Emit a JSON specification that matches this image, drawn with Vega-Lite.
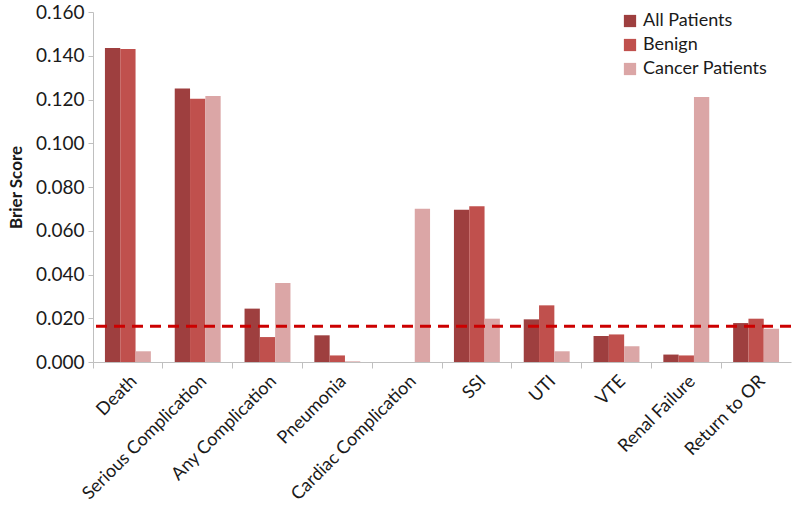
{
  "$schema": "https://vega.github.io/schema/vega-lite/v6.json",
  "width": 698,
  "height": 350,
  "autosize": {"type": "none"},
  "padding": {"left": 93, "top": 12, "right": 9, "bottom": 156},
  "background": "white",
  "config": {
    "font": "Lato",
    "view": {"stroke": null},
    "axis": {"grid": false, "domainColor": "#BFBFBF", "tickColor": "#BFBFBF", "labelColor": "#1a1a1a", "titleColor": "#1a1a1a"}
  },
  "datasets": {
    "scores": [
      {"outcome": "Death", "group": "All Patients", "brier": 0.1435},
      {"outcome": "Death", "group": "Benign", "brier": 0.1431},
      {"outcome": "Death", "group": "Cancer Patients", "brier": 0.0049},
      {"outcome": "Serious Complication", "group": "All Patients", "brier": 0.1250},
      {"outcome": "Serious Complication", "group": "Benign", "brier": 0.1204},
      {"outcome": "Serious Complication", "group": "Cancer Patients", "brier": 0.1216},
      {"outcome": "Any Complication", "group": "All Patients", "brier": 0.0244},
      {"outcome": "Any Complication", "group": "Benign", "brier": 0.0114},
      {"outcome": "Any Complication", "group": "Cancer Patients", "brier": 0.0361},
      {"outcome": "Pneumonia", "group": "All Patients", "brier": 0.0122},
      {"outcome": "Pneumonia", "group": "Benign", "brier": 0.0030},
      {"outcome": "Pneumonia", "group": "Cancer Patients", "brier": 0.0003},
      {"outcome": "Cardiac Complication", "group": "All Patients", "brier": 0},
      {"outcome": "Cardiac Complication", "group": "Benign", "brier": 0},
      {"outcome": "Cardiac Complication", "group": "Cancer Patients", "brier": 0.0701},
      {"outcome": "SSI", "group": "All Patients", "brier": 0.0696},
      {"outcome": "SSI", "group": "Benign", "brier": 0.0712},
      {"outcome": "SSI", "group": "Cancer Patients", "brier": 0.0198},
      {"outcome": "UTI", "group": "All Patients", "brier": 0.0195},
      {"outcome": "UTI", "group": "Benign", "brier": 0.0259},
      {"outcome": "UTI", "group": "Cancer Patients", "brier": 0.0049},
      {"outcome": "VTE", "group": "All Patients", "brier": 0.0119},
      {"outcome": "VTE", "group": "Benign", "brier": 0.0126},
      {"outcome": "VTE", "group": "Cancer Patients", "brier": 0.0072},
      {"outcome": "Renal Failure", "group": "All Patients", "brier": 0.0034},
      {"outcome": "Renal Failure", "group": "Benign", "brier": 0.0030},
      {"outcome": "Renal Failure", "group": "Cancer Patients", "brier": 0.1211},
      {"outcome": "Return to OR", "group": "All Patients", "brier": 0.0178},
      {"outcome": "Return to OR", "group": "Benign", "brier": 0.0198},
      {"outcome": "Return to OR", "group": "Cancer Patients", "brier": 0.0152}
    ],
    "threshold": [{"ref": 0.0163}]
  },
  "layer": [
    {
      "data": {"name": "scores"},
      "mark": {"type": "bar"},
      "encoding": {
        "x": {
          "field": "outcome", "type": "nominal", "sort": null,
          "scale": {"paddingInner": 0, "paddingOuter": 0},
          "axis": {"title": null, "labelAngle": -45, "labelFontSize": 18, "bandPosition": 0, "tickSize": 6, "labelPadding": 4, "labelLimit": 300}
        },
        "xOffset": {
          "field": "group", "type": "nominal",
          "scale": {"paddingInner": 0, "paddingOuter": 0.78}
        },
        "y": {
          "field": "brier", "type": "quantitative",
          "scale": {"domain": [0, 0.16], "nice": false},
          "axis": {"title": "Brier Score", "titleFontSize": 17, "titleFontWeight": "bold", "titlePadding": 10, "format": ".3f", "values": [0, 0.02, 0.04, 0.06, 0.08, 0.1, 0.12, 0.14, 0.16], "labelFontSize": 19, "tickSize": 5, "labelPadding": 4}
        },
        "color": {
          "field": "group", "type": "nominal",
          "scale": {"domain": ["All Patients", "Benign", "Cancer Patients"], "range": ["#9E3F3F", "#C0504D", "#DBA6A6"]},
          "legend": {"title": null, "orient": "none", "legendX": 528, "legendY": 0, "symbolType": "square", "symbolSize": 150, "symbolStrokeWidth": 0, "labelFontSize": 18, "rowPadding": 6, "labelColor": "#1a1a1a"}
        }
      }
    },
    {
      "data": {"name": "threshold"},
      "mark": {"type": "rule", "color": "#CC0000", "strokeWidth": 3, "strokeDash": [11, 7]},
      "encoding": {"y": {"field": "ref", "type": "quantitative"}}
    }
  ]
}
